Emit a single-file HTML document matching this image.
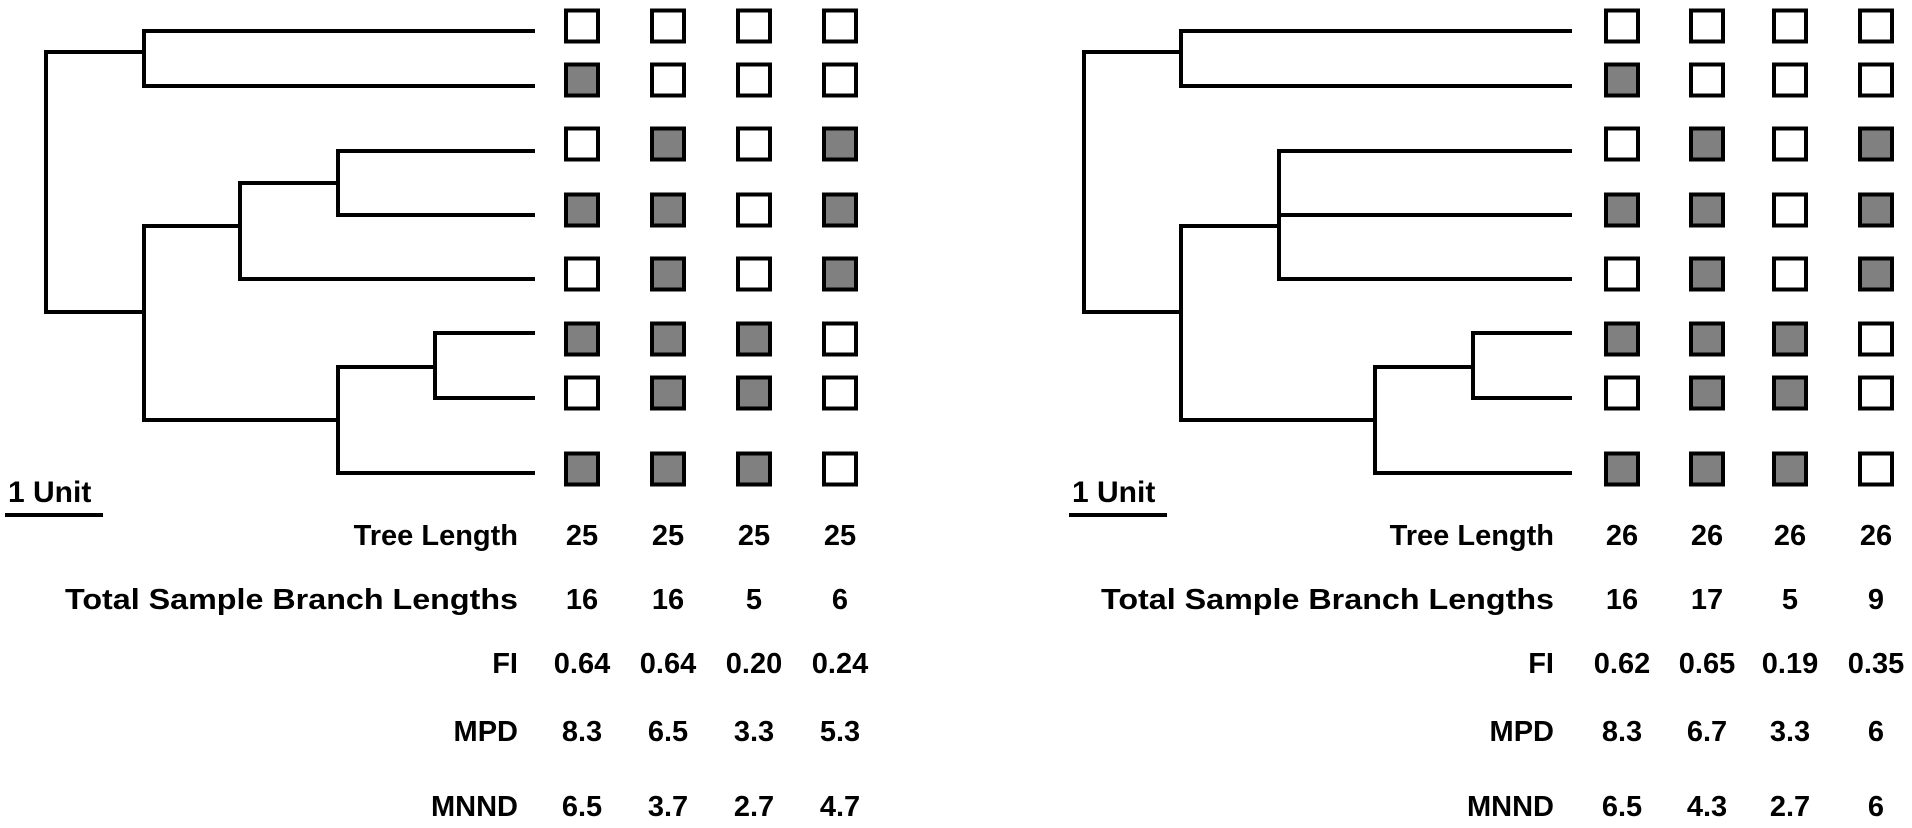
<!DOCTYPE html>
<html><head><meta charset="utf-8"><style>
html,body{margin:0;padding:0;background:#fff;}
svg{display:block;font-family:"Liberation Sans",Arial,sans-serif;font-weight:bold;}
</style></head><body>
<svg id="fig" width="1912" height="828" viewBox="0 0 1912 828" xmlns="http://www.w3.org/2000/svg"></svg>
<script>
// ---- data ----
const leafY = [31, 86, 151, 215, 279, 333, 398, 473];
const squareRowY = [26, 80, 144, 210, 274, 339, 393, 469];
const rowLabels = ["Tree Length", "Total Sample Branch Lengths", "FI", "MPD", "MNND"];
const rowBaselines = [545, 609, 673, 741, 816];
// presence matrices: [leaf][sample]
const leftPresence = [
  [0,0,0,0],[1,0,0,0],[0,1,0,1],[1,1,0,1],[0,1,0,1],[1,1,1,0],[0,1,1,0],[1,1,1,0]];
const rightPresence = [
  [0,0,0,0],[1,0,0,0],[0,1,0,1],[1,1,0,1],[0,1,0,1],[1,1,1,0],[0,1,1,0],[1,1,1,0]];
const leftTreeLength = ["25","25","25","25"];
const leftBranch = ["16","16","5","6"];
const leftFI = ["0.64","0.64","0.20","0.24"];
const leftMPD = ["8.3","6.5","3.3","5.3"];
const leftMNND = ["6.5","3.7","2.7","4.7"];
const rightTreeLength = ["26","26","26","26"];
const rightBranch = ["16","17","5","9"];
const rightFI = ["0.62","0.65","0.19","0.35"];
const rightMPD = ["8.3","6.7","3.3","6"];
const rightMNND = ["6.5","4.3","2.7","6"];

const NS = "http://www.w3.org/2000/svg";
const svg = document.getElementById('fig');
function mk(tag, attrs, parent){
  const e = document.createElementNS(NS, tag);
  for (const k in attrs) e.setAttribute(k, attrs[k]);
  (parent||svg).appendChild(e);
  return e;
}
function line(g,x1,y1,x2,y2){
  const l = mk('line',{x1,y1,x2,y2,stroke:'#000','stroke-width':4,'stroke-linecap':'square'},g);
  
  
}

function panel(opts){
  const g = mk('g',{});
  
  
  const t = opts.tree;
  // tree
  const tg = mk('g',{},g);
  
  
  const rootTop = 52, rootBot = 312;
  line(tg,t.root,rootTop,t.root,rootBot);
  line(tg,t.root,rootTop,t.A,rootTop);
  line(tg,t.root,rootBot,t.A,rootBot);
  // node A
  line(tg,t.A,leafY[0],t.A,leafY[1]);
  line(tg,t.A,leafY[0],t.leaf,leafY[0]);
  line(tg,t.A,leafY[1],t.leaf,leafY[1]);
  // node B
  line(tg,t.A,226,t.A,420);
  line(tg,t.A,226,t.C,226);
  line(tg,t.A,420,t.D,420);
  // node C
  line(tg,t.C,t.cTop,t.C,leafY[4]);
  line(tg,t.C,leafY[4],t.leaf,leafY[4]);
  if (t.E){
    line(tg,t.C,183,t.E,183);
    line(tg,t.E,leafY[2],t.E,leafY[3]);
    line(tg,t.E,leafY[2],t.leaf,leafY[2]);
    line(tg,t.E,leafY[3],t.leaf,leafY[3]);
  } else {
    line(tg,t.C,leafY[2],t.leaf,leafY[2]);
    line(tg,t.C,leafY[3],t.leaf,leafY[3]);
  }
  // node D
  line(tg,t.D,367,t.D,leafY[7]);
  line(tg,t.D,367,t.F,367);
  line(tg,t.D,leafY[7],t.leaf,leafY[7]);
  line(tg,t.F,leafY[5],t.F,leafY[6]);
  line(tg,t.F,leafY[5],t.leaf,leafY[5]);
  line(tg,t.F,leafY[6],t.leaf,leafY[6]);
  // scale bar
  const sb = mk('text',{x:t.scaleX,y:502,'font-size':30},g);
  sb.textContent = '1 Unit';
  
  
  const sbl = mk('line',{x1:t.scaleX-3,y1:515,x2:t.scaleX+95,y2:515,stroke:'#000','stroke-width':4},g);
  
  
  // squares
  opts.presence.forEach((row,i)=>{
    row.forEach((v,j)=>{
      const r = mk('rect',{x:opts.cols[j]-16,y:squareRowY[i]-15.5,width:32,height:31,
        fill: v ? '#808080' : '#fff', stroke:'#000','stroke-width':4},g);
      
      
    });
  });
  // table
  const tables = [opts.treeLength, opts.branch, opts.fi, opts.mpd, opts.mnnd];
  rowLabels.forEach((lab,i)=>{
    const tx = mk('text',{x:opts.labelRight,y:rowBaselines[i],'font-size':29,'text-anchor':'end'},g);
    tx.textContent = lab;
    if (i===1) { tx.setAttribute('textLength', 453); tx.setAttribute('lengthAdjust','spacingAndGlyphs'); }
    
    
    tables[i].forEach((val,j)=>{
      const v = mk('text',{x:opts.cols[j],y:rowBaselines[i],'font-size':29,'text-anchor':'middle'},g);
      v.textContent = val;
      
      
    });
  });
}

panel({name:'left-panel',
  tree:{root:46,A:144,C:240,E:338,D:338,F:435,leaf:533,cTop:183,scaleX:8},
  cols:[582,668,754,840], labelRight:518, presence:leftPresence,
  treeLength:leftTreeLength, branch:leftBranch, fi:leftFI, mpd:leftMPD, mnnd:leftMNND});
panel({name:'right-panel',
  tree:{root:1084,A:1181,C:1279,E:null,D:1375,F:1473,leaf:1570,cTop:leafY[2],scaleX:1072},
  cols:[1622,1707,1790,1876], labelRight:1554, presence:rightPresence,
  treeLength:rightTreeLength, branch:rightBranch, fi:rightFI, mpd:rightMPD, mnnd:rightMNND});
</script>
</body></html>
